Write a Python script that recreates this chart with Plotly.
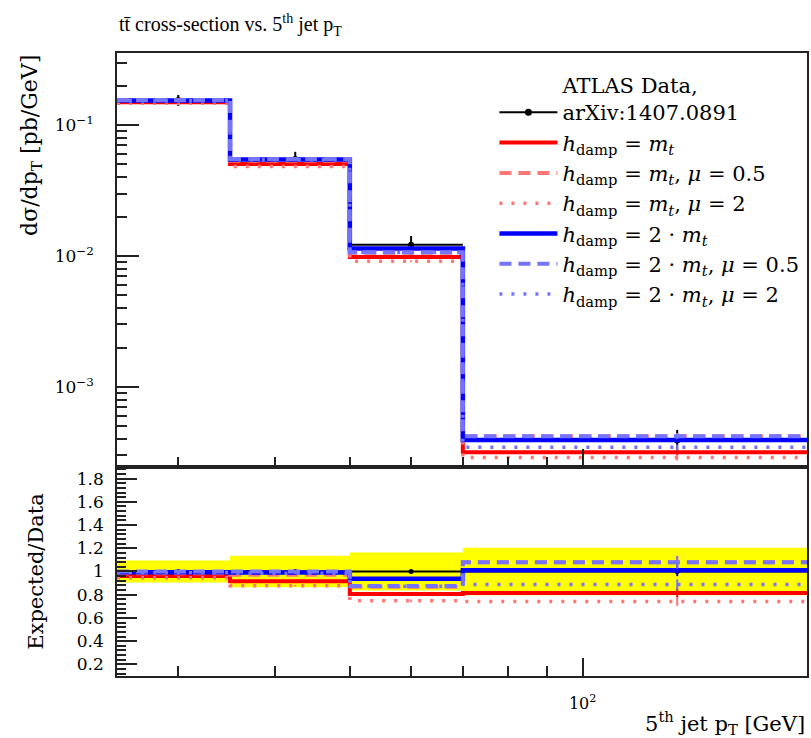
import numpy as np
import plotly.graph_objects as go

# Bin edges and centres of the 5th-jet pT distribution [GeV]
edges = [25, 35, 50, 70, 195]
centers = [30, 42.5, 60, 132.5]

# ATLAS measurement (pb/GeV) and its relative uncertainty
data_xs = [0.155, 0.055, 0.0122, 3.9e-4]
data_relerr = [0.095, 0.135, 0.163, 0.205]

# Powheg+Pythia predictions (pb/GeV)
hdamp_mt = [0.149, 0.0504, 0.00984, 3.18e-4]
hdamp_mt_mu05 = [0.1527, 0.0534, 0.0106, 4.21e-4]
hdamp_mt_mu2 = [0.1465, 0.0483, 0.00913, 2.89e-4]
hdamp_2mt = [0.1541, 0.0545, 0.01143, 3.94e-4]
hdamp_2mt_mu05 = [0.155, 0.055, 0.01068, 4.21e-4]
hdamp_2mt_mu2 = [0.1535, 0.0542, 0.01064, 3.46e-4]
mc_relerr = [0.004, 0.008, 0.015, 0.05]

RED, LRED = "#ff0000", "#ff7676"
BLUE, LBLUE = "#0000ff", "#7474ff"
SERIF = "DejaVu Serif"
TITLE_FONT = "Liberation Serif"

predictions = [
    ("<i>h</i><sub>damp</sub> = <i>m<sub>t</sub></i>", hdamp_mt, RED, "solid", 4),
    ("<i>h</i><sub>damp</sub> = <i>m<sub>t</sub></i>, <i>μ</i> = 0.5", hdamp_mt_mu05, LRED, "12px,7px", 4),
    ("<i>h</i><sub>damp</sub> = <i>m<sub>t</sub></i>, <i>μ</i> = 2", hdamp_mt_mu2, LRED, "3px,9px", 3.5),
    ("<i>h</i><sub>damp</sub> = 2 · <i>m<sub>t</sub></i>", hdamp_2mt, BLUE, "solid", 4.5),
    ("<i>h</i><sub>damp</sub> = 2 · <i>m<sub>t</sub></i>, <i>μ</i> = 0.5", hdamp_2mt_mu05, LBLUE, "12px,7px", 4),
    ("<i>h</i><sub>damp</sub> = 2 · <i>m<sub>t</sub></i>, <i>μ</i> = 2", hdamp_2mt_mu2, LBLUE, "3px,9px", 3.5),
]

data = np.array(data_xs)
derr = np.array(data_relerr)
ctr = np.array(centers)
lo = np.array(edges[:-1])
hi = np.array(edges[1:])


def step(vals):
    v = list(vals)
    return edges, v + [v[-1]]


fig = go.Figure()

# Data uncertainty band in the ratio panel
bx, bu, bl = [], [], []
for i in range(len(centers)):
    bx += [edges[i], edges[i + 1]]
    bu += [1 + derr[i]] * 2
    bl += [1 - derr[i]] * 2
fig.add_trace(go.Scatter(x=bx + bx[::-1], y=bu + bl[::-1], fill="toself",
                         fillcolor="#ffff00", line=dict(width=0), mode="lines",
                         xaxis="x2", yaxis="y2", showlegend=False, hoverinfo="skip"))

# Data points (main and ratio)
ex = dict(type="data", symmetric=False, array=list(hi - ctr), arrayminus=list(ctr - lo),
          width=0, thickness=2, color="black")
fig.add_trace(go.Scatter(x=centers, y=data_xs, mode="markers",
                         marker=dict(color="black", size=6),
                         error_x=ex,
                         error_y=dict(type="data", array=list(data * derr), width=0,
                                      thickness=2, color="black"),
                         showlegend=False))
fig.add_trace(go.Scatter(x=centers, y=[1.0] * len(centers), mode="markers",
                         marker=dict(color="black", size=5),
                         error_x=ex,
                         xaxis="x2", yaxis="y2", showlegend=False))

# Legend entry for the data
fig.add_trace(go.Scatter(x=[None], y=[None], mode="lines+markers",
                         line=dict(color="black", width=2),
                         marker=dict(color="black", size=7),
                         name="ATLAS Data,<br>arXiv:1407.0891"))

# Predictions: histograms in the main panel, ratios to data below
for name, vals, col, dash, w in predictions:
    v = np.array(vals)
    sx, sy = step(v)
    fig.add_trace(go.Scatter(x=sx, y=sy, mode="lines", line_shape="hv",
                             line=dict(color=col, width=w, dash=dash), name=name))
    fig.add_trace(go.Scatter(x=centers, y=list(v), mode="markers",
                             marker=dict(size=1, color="rgba(0,0,0,0)"),
                             error_y=dict(type="data", array=list(v * np.array(mc_relerr)),
                                          width=0, thickness=2, color=col),
                             showlegend=False, hoverinfo="skip"))
    r = v / data
    rx, ry = step(r)
    fig.add_trace(go.Scatter(x=rx, y=ry, mode="lines", line_shape="hv",
                             line=dict(color=col, width=w, dash=dash),
                             xaxis="x2", yaxis="y2", showlegend=False))
    fig.add_trace(go.Scatter(x=centers, y=list(r), mode="markers",
                             marker=dict(size=1, color="rgba(0,0,0,0)"),
                             error_y=dict(type="data", array=list(r * np.array(mc_relerr)),
                                          width=0, thickness=2, color=col),
                             xaxis="x2", yaxis="y2", showlegend=False, hoverinfo="skip"))

xminor = [30, 40, 50, 60, 70, 80, 90]
yminor = [m * 10.0 ** e for e in (-4, -3, -2, -1) for m in range(2, 10)]
SPLIT = 0.3355

axis_common = dict(showline=True, linecolor="#222", linewidth=1.5, mirror=True,
                   showgrid=False, zeroline=False, ticks="inside", tickcolor="#222")

fig.update_layout(
    width=811, height=738,
    margin=dict(l=117, r=2, t=53, b=62),
    paper_bgcolor="white", plot_bgcolor="white",
    font=dict(family=SERIF, color="black", size=17),
    xaxis=dict(type="log", range=[np.log10(25), np.log10(195)], anchor="y",
               tickvals=[100], ticktext=[""], ticklen=18, tickwidth=1.5,
               minor=dict(tickvals=xminor, ticklen=10, ticks="inside", tickcolor="#222"),
               showticklabels=False, **axis_common),
    yaxis=dict(type="log", range=[-3.611, -0.45], domain=[SPLIT, 1], anchor="x",
               tickvals=[1e-3, 1e-2, 1e-1],
               ticktext=["10<sup>−3</sup>", "10<sup>−2</sup>", "10<sup>−1</sup>"],
               ticklen=22, tickwidth=1.5, ticklabelstandoff=18,
               tickfont=dict(size=17),
               minor=dict(tickvals=yminor, ticklen=10, ticks="inside", tickcolor="#222"),
               **axis_common),
    xaxis2=dict(type="log", range=[np.log10(25), np.log10(195)], anchor="y2",
                matches="x",
                tickvals=[100], ticktext=["10<sup>2</sup>"], ticklen=18, tickwidth=1.5,
                ticklabelstandoff=12, tickfont=dict(size=16),
                minor=dict(tickvals=xminor, ticklen=10, ticks="inside", tickcolor="#222"),
                **axis_common),
    yaxis2=dict(range=[0.1, 1.9], domain=[0, SPLIT], anchor="x2",
                tickvals=[0.2, 0.4, 0.6, 0.8, 1.0, 1.2, 1.4, 1.6, 1.8],
                ticktext=["0.2", "0.4", "0.6", "0.8", "1", "1.2", "1.4", "1.6", "1.8"],
                ticklen=20, tickwidth=1.5, ticklabelstandoff=8,
                tickfont=dict(size=17),
                minor=dict(dtick=0.04, tick0=0.0, ticklen=9, ticks="inside", tickcolor="#222"),
                **axis_common),
    legend=dict(x=0.547, y=0.981, xanchor="left", yanchor="top",
                bgcolor="rgba(0,0,0,0)", font=dict(family=SERIF, size=21),
                itemwidth=58, tracegroupgap=0, valign="bottom"),
    annotations=[
        dict(text="tt̄ cross-section vs. 5<sup>th</sup> jet p<sub>T</sub>",
             xref="paper", yref="paper", x=0, y=1.045, xanchor="left", yanchor="middle",
             showarrow=False, font=dict(family=TITLE_FONT, size=20)),
        dict(text="5<sup>th</sup> jet p<sub>T</sub> [GeV]",
             xref="paper", yref="paper", x=1, y=-0.075, xanchor="right", yanchor="middle",
             showarrow=False, font=dict(size=21)),
        dict(text="dσ/dp<sub>T</sub> [pb/GeV]", textangle=-90,
             xref="paper", yref="paper", x=-0.124, y=1, xanchor="center", yanchor="top",
             showarrow=False, font=dict(size=22)),
        dict(text="Expected/Data", textangle=-90,
             xref="paper", yref="paper", x=-0.117, y=SPLIT / 2, xanchor="center",
             yanchor="middle", showarrow=False, font=dict(size=21)),
    ],
)

fig.write_html("out.html")
